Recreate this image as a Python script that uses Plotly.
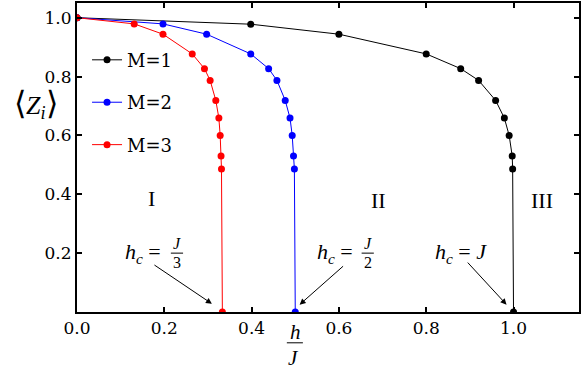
import plotly.graph_objects as go

# ---- data ----
x_m1 = [0.0, 0.398, 0.600, 0.800, 0.879, 0.920, 0.959, 0.979, 0.990, 0.997, 0.998, 1.0]
y_m1 = [1.0, 0.978, 0.944, 0.877, 0.827, 0.787, 0.719, 0.659, 0.600, 0.530, 0.486, 0.0]
x_m2 = [0.0, 0.197, 0.297, 0.398, 0.439, 0.458, 0.477, 0.488, 0.493, 0.496, 0.498, 0.5]
y_m2 = [1.0, 0.979, 0.944, 0.877, 0.827, 0.787, 0.719, 0.659, 0.600, 0.530, 0.486, 0.0]
x_m3 = [0.0, 0.131, 0.197, 0.264, 0.292, 0.305, 0.318, 0.325, 0.328, 0.330, 0.331, 0.333]
y_m3 = [1.0, 0.979, 0.944, 0.877, 0.827, 0.787, 0.719, 0.659, 0.600, 0.530, 0.486, 0.0]
series_names = ["M=1", "M=2", "M=3"]
series_colors = ["#000000", "#0000ff", "#ff0000"]

x_ticks = [0.0, 0.2, 0.4, 0.6, 0.8, 1.0]
x_ticklabels = ["0.0", "0.2", "0.4", "0.6", "0.8", "1.0"]
y_ticks = [0.2, 0.4, 0.6, 0.8, 1.0]
y_ticklabels = ["0.2", "0.4", "0.6", "0.8", "1.0"]

region_labels = ["I", "II", "III"]
region_x = [0.17, 0.69, 1.066]
region_y = [0.385, 0.38, 0.38]

SERIF_TXT = "DejaVu Serif"
MATH = "Liberation Serif"

fig = go.Figure()
for i, (xs, ys) in enumerate([(x_m1, y_m1), (x_m2, y_m2), (x_m3, y_m3)]):
    fig.add_trace(go.Scatter(
        x=xs, y=ys, mode="lines+markers", name=series_names[i],
        legendgroup=series_names[i],
        line=dict(color=series_colors[i], width=1),
        marker=dict(color=series_colors[i], size=7),
    ))

ann = []
# region numerals
for t, xx, yy in zip(region_labels, region_x, region_y):
    ann.append(dict(x=xx, y=yy, xref="x", yref="y", text=t, showarrow=False,
                    xanchor="center", yanchor="middle",
                    font=dict(family=MATH, size=22, color="black")))

# arrows (tail -> head)
arrows = [((0.174, 0.163), (0.309, 0.028)),
          ((0.613, 0.160), (0.510, 0.025)),
          ((0.892, 0.173), (0.984, 0.025))]
for (tx, ty), (hx, hy) in arrows:
    ann.append(dict(x=hx, y=hy, ax=tx, ay=ty, xref="x", yref="y", axref="x", ayref="y",
                    text="", showarrow=True, arrowhead=2, arrowsize=1.2, arrowwidth=1,
                    arrowcolor="black"))

hc = "<i>h</i><sub><i>c</i></sub> ="
# h_c = J/3
ann.append(dict(x=0.197, y=0.2, xref="x", yref="y", text=hc, xanchor="right", yanchor="middle",
                showarrow=False, font=dict(family=MATH, size=22, color="black")))
ann.append(dict(x=0.229, y=0.233, xref="x", yref="y", text="<i>J</i>", showarrow=False,
                xanchor="center", yanchor="middle",
                font=dict(family=MATH, size=16, color="black")))
ann.append(dict(x=0.229, y=0.168, xref="x", yref="y", text="3", showarrow=False,
                xanchor="center", yanchor="middle",
                font=dict(family=MATH, size=16, color="black")))
# h_c = J/2
ann.append(dict(x=0.636, y=0.2, xref="x", yref="y", text=hc, xanchor="right", yanchor="middle",
                showarrow=False, font=dict(family=MATH, size=22, color="black")))
ann.append(dict(x=0.666, y=0.233, xref="x", yref="y", text="<i>J</i>", showarrow=False,
                xanchor="center", yanchor="middle",
                font=dict(family=MATH, size=16, color="black")))
ann.append(dict(x=0.666, y=0.168, xref="x", yref="y", text="2", showarrow=False,
                xanchor="center", yanchor="middle",
                font=dict(family=MATH, size=16, color="black")))
# h_c = J
ann.append(dict(x=0.879, y=0.2, xref="x", yref="y", text=hc + " <i>J</i>", showarrow=False,
                xanchor="center", yanchor="middle",
                font=dict(family=MATH, size=22, color="black")))

# axis titles
ann.append(dict(x=-0.082, y=0.672, xref="paper", yref="paper",
                text=("<span style='font-size:32px'>\u27e8</span><i>Z</i><sub><i>i</i></sub>"
                      "<span style='font-size:32px'>\u27e9</span>"),
                showarrow=False, xanchor="center", yanchor="middle",
                font=dict(family=MATH, size=26, color="black")))
ann.append(dict(x=0.436, y=-0.064, xref="paper", yref="paper", text="<i>h</i>", showarrow=False,
                xanchor="center", yanchor="middle",
                font=dict(family=MATH, size=21, color="black")))
ann.append(dict(x=0.432, y=-0.148, xref="paper", yref="paper", text="<i>J</i>", showarrow=False,
                xanchor="center", yanchor="middle",
                font=dict(family=MATH, size=21, color="black")))

shapes = [
    dict(type="line", xref="x", yref="y", x0=0.215, x1=0.243, y0=0.2, y1=0.2,
         line=dict(color="black", width=1)),
    dict(type="line", xref="x", yref="y", x0=0.652, x1=0.680, y0=0.2, y1=0.2,
         line=dict(color="black", width=1)),
    dict(type="line", xref="paper", yref="paper", x0=0.418, x1=0.450, y0=-0.0997, y1=-0.0997,
         line=dict(color="black", width=1)),
]

axis_common = dict(showline=True, linewidth=2, linecolor="black", mirror="ticks",
                   ticks="inside", ticklen=5, tickwidth=2, tickcolor="black",
                   showgrid=False, zeroline=False,
                   tickfont=dict(family=SERIF_TXT, size=17, color="black"))

fig.update_layout(
    width=582, height=376,
    margin=dict(l=77, r=3, t=1, b=64),
    paper_bgcolor="white", plot_bgcolor="white",
    xaxis=dict(range=[0, 1.15], tickvals=x_ticks, ticktext=x_ticklabels, **axis_common),
    yaxis=dict(range=[0, 1.05], tickvals=y_ticks, ticktext=y_ticklabels, **axis_common),
    legend=dict(x=0.02, y=0.875, xanchor="left", yanchor="top",
                bgcolor="rgba(0,0,0,0)", tracegroupgap=16,
                font=dict(family=SERIF_TXT, size=18, color="black")),
    annotations=ann, shapes=shapes,
)

fig.write_html("out.html")
